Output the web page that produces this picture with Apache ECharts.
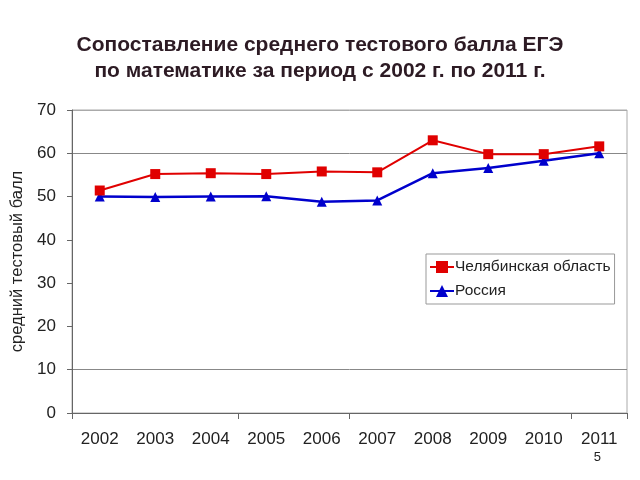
<!DOCTYPE html>
<html>
<head>
<meta charset="utf-8">
<script src="https://cdn.jsdelivr.net/npm/echarts@6/dist/echarts.min.js"></script>
<style>html,body{margin:0;padding:0;background:#fff}#c{width:640px;height:480px}</style>
</head>
<body>
<div id="c"></div>
<script>
var years = ['2002','2003','2004','2005','2006','2007','2008','2009','2010','2011'];
var chelyabinsk = [51.4, 55.2, 55.4, 55.2, 55.8, 55.6, 63.0, 59.8, 59.8, 61.6];
var russia = [50.0, 49.9, 50.0, 50.1, 48.8, 49.1, 55.4, 56.6, 58.3, 60.0];
var seriesNames = ['Челябинская область', 'Россия'];
var titleText = 'Сопоставление среднего тестового балла ЕГЭ\nпо математике за период с 2002 г. по 2011 г.';
var yName = 'средний тестовый балл';
var pageNo = '5';

var chart = echarts.init(document.getElementById('c'), null, {renderer: 'canvas'});
var font = 'Liberation Sans, Arial, sans-serif';
chart.setOption({
  animation: false,
  backgroundColor: '#fff',
  title: {
    text: titleText,
    left: 'center',
    top: 27,
    textStyle: {fontFamily: font, fontSize: 21, fontWeight: 'bold', color: '#2d1b24', lineHeight: 26}
  },
  graphic: [{
    type: 'text', right: 39, top: 451,
    style: {text: pageNo, font: '13px ' + font, fill: '#222'}
  }],
  legend: {
    orient: 'vertical',
    left: 426, top: 254,
    padding: [5, 4, 5, 3],
    itemGap: 8,
    itemWidth: 24, itemHeight: 15,
    borderColor: '#999', borderWidth: 1,
    backgroundColor: '#fff',
    textStyle: {fontFamily: font, fontSize: 15.5, color: '#222', padding: [0, 0, 0, -4]},
    data: [seriesNames[0], seriesNames[1]]
  },
  grid: {
    left: 72, right: 13, top: 110, bottom: 67,
    show: true, borderColor: '#aaa', borderWidth: 1, backgroundColor: 'transparent'
  },
  xAxis: {
    type: 'category',
    data: years,
    boundaryGap: true,
    axisLine: {lineStyle: {color: '#666', width: 1}},
    axisTick: {
      show: true, length: 6, inside: false,
      interval: function (i) { return i === 0 || i === 3 || i === 5 || i === 9; },
      lineStyle: {color: '#666'}
    },
    axisLabel: {fontFamily: font, fontSize: 17, color: '#222', margin: 18, interval: 0}
  },
  yAxis: {
    type: 'value',
    min: 0, max: 70, interval: 10,
    name: yName,
    nameLocation: 'middle',
    nameGap: 46,
    nameRotate: 90,
    nameTextStyle: {fontFamily: font, fontSize: 16.5, color: '#222'},
    axisLine: {show: true, lineStyle: {color: '#666', width: 1}},
    axisTick: {show: true, length: 5, lineStyle: {color: '#666'}},
    axisLabel: {fontFamily: font, fontSize: 17, color: '#222', margin: 16},
    splitLine: {
      show: true,
      lineStyle: {color: ['#888', '#888', 'rgba(0,0,0,0)', 'rgba(0,0,0,0)', 'rgba(0,0,0,0)', 'rgba(0,0,0,0)', '#888', '#aaa'], width: 1}
    }
  },
  series: [
    {
      name: seriesNames[0],
      type: 'line',
      data: chelyabinsk,
      symbol: 'rect', symbolSize: 10,
      lineStyle: {color: '#e00000', width: 2},
      itemStyle: {color: '#e00000'},
      z: 3
    },
    {
      name: seriesNames[1],
      type: 'line',
      data: russia,
      symbol: 'triangle', symbolSize: 10,
      lineStyle: {color: '#0000cc', width: 2.5},
      itemStyle: {color: '#0000cc'},
      z: 2
    }
  ]
});
</script>
</body>
</html>
